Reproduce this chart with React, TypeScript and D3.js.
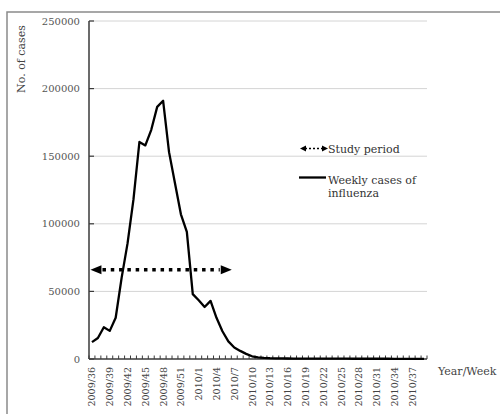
import React from "react";
import * as d3 from "d3";

const weeks: string[] = [
  "2009/36","2009/37","2009/38","2009/39","2009/40","2009/41","2009/42","2009/43","2009/44","2009/45",
  "2009/46","2009/47","2009/48","2009/49","2009/50","2009/51","2009/52","2009/53","2010/1","2010/2",
  "2010/3","2010/4","2010/5","2010/6","2010/7","2010/8","2010/9","2010/10","2010/11","2010/12",
  "2010/13","2010/14","2010/15","2010/16","2010/17","2010/18","2010/19","2010/20","2010/21","2010/22",
  "2010/23","2010/24","2010/25","2010/26","2010/27","2010/28","2010/29","2010/30","2010/31","2010/32",
  "2010/33","2010/34","2010/35","2010/36","2010/37","2010/38","2010/39",
];

const cases: number[] = [
  12500, 15500, 23500, 20800, 30500, 60000, 85500, 118000, 160500, 158000,
  169500, 186500, 191000, 153000, 130000, 107000, 94000, 48000, 43500, 38500,
  43000, 30500, 20500, 13000, 8500, 6000, 3800, 2000, 1200, 800,
  600, 500, 420, 380, 340, 320, 300, 280, 260, 250,
  240, 230, 220, 210, 200, 200, 190, 180, 180, 170,
  170, 160, 160, 150, 150, 150, 140,
];

const labelWeeks: string[] = [
  "2009/36","2009/39","2009/42","2009/45","2009/48","2009/51","2010/1","2010/4","2010/7","2010/10",
  "2010/13","2010/16","2010/19","2010/22","2010/25","2010/28","2010/31","2010/34","2010/37",
];

const yTicks: number[] = [0, 50000, 100000, 150000, 200000, 250000];

const studyStart = "2009/36";
const studyEnd = "2010/7";
const studyLevel = 66000;

const FONT = "'DejaVu Serif', serif";

export default function App() {
  const left = 89, right = 427, top = 21, bottom = 359;
  const x = d3.scaleBand<string>().domain(weeks).range([left, right]).paddingInner(0).paddingOuter(0);
  const y = d3.scaleLinear().domain([0, 250000]).range([bottom, top]);
  const cx = (w: string) => (x(w) as number) + x.bandwidth() / 2;

  const line = d3
    .line<number>()
    .x((_, i) => cx(weeks[i]))
    .y((d) => y(d));

  const ay = y(studyLevel);
  const ax0 = cx(studyStart) - 1.5;
  const ax1 = cx(studyEnd) - 2.5;

  const tickXs = d3.range(weeks.length + 1).map((i) => left + i * x.bandwidth());

  return (
    <svg
      width={500}
      height={414}
      style={{ position: "absolute", left: 0, top: 0, background: "#fff" }}
      fontFamily={FONT}
    >
      <rect x={0} y={0} width={500} height={414} fill="#fff" />
      <rect x={7} y={12} width={520} height={430} fill="none" stroke="#8a8a8a" strokeWidth={1.5} />

      {/* gridlines */}
      {yTicks.filter((t) => t > 0).map((t) => (
        <line key={t} x1={left} x2={right} y1={y(t)} y2={y(t)} stroke="#d4d4d4" strokeWidth={1} />
      ))}

      {/* y axis */}
      <line x1={left} x2={left} y1={top} y2={bottom} stroke="#3a3a3a" strokeWidth={1.5} />
      {yTicks.map((t) => (
        <g key={t}>
          <line x1={left} x2={left + 5} y1={y(t)} y2={y(t)} stroke="#3a3a3a" strokeWidth={1.2} />
          <text x={80} y={y(t)} dy="0.35em" textAnchor="end" fontSize={10} fill="#555">
            {t}
          </text>
        </g>
      ))}
      <text
        transform={`translate(25,59) rotate(-90)`}
        textAnchor="middle"
        fontSize={11}
        fill="#444"
      >
        No. of cases
      </text>

      {/* x axis */}
      {tickXs.map((tx, i) => (
        <line key={i} x1={tx} x2={tx} y1={bottom} y2={bottom - 3.5} stroke="#3a3a3a" strokeWidth={1} />
      ))}
      <line x1={left} x2={right} y1={bottom} y2={bottom} stroke="#3a3a3a" strokeWidth={1.5} />
      {labelWeeks.map((w) => (
        <text
          key={w}
          transform={`translate(${cx(w) + 3.5},${bottom + 8}) rotate(-90)`}
          textAnchor="end"
          fontSize={9.5}
          fill="#444"
        >
          {w}
        </text>
      ))}
      <text x={438} y={375} fontSize={11} fill="#444">
        Year/Week
      </text>

      {/* data line */}
      <path d={line(cases) || ""} fill="none" stroke="#000" strokeWidth={2.3} strokeLinejoin="round" />

      {/* study period arrow */}
      <line
        x1={ax0 + 12}
        x2={ax1 - 12}
        y1={ay}
        y2={ay}
        stroke="#000"
        strokeWidth={3.5}
        strokeDasharray="3.5 4.8"
      />
      <path d={`M${ax0},${ay} L${ax0 + 11},${ay - 4.5} L${ax0 + 11},${ay + 4.5} Z`} fill="#000" />
      <path d={`M${ax1},${ay} L${ax1 - 11},${ay - 4.5} L${ax1 - 11},${ay + 4.5} Z`} fill="#000" />

      {/* legend */}
      <line x1={305} x2={322} y1={148.5} y2={148.5} stroke="#000" strokeWidth={1.5} strokeDasharray="2 2" />
      <path d={`M300,148.5 L306,145.5 L306,151.5 Z`} fill="#000" />
      <path d={`M328,148.5 L322,145.5 L322,151.5 Z`} fill="#000" />
      <text x={328} y={152.5} fontSize={11} fill="#333">
        Study period
      </text>
      <line x1={299} x2={326} y1={177.5} y2={177.5} stroke="#000" strokeWidth={2.3} />
      <text x={328} y={184} fontSize={11} fill="#333">
        Weekly cases of
      </text>
      <text x={328} y={197} fontSize={11} fill="#333">
        influenza
      </text>
    </svg>
  );
}
